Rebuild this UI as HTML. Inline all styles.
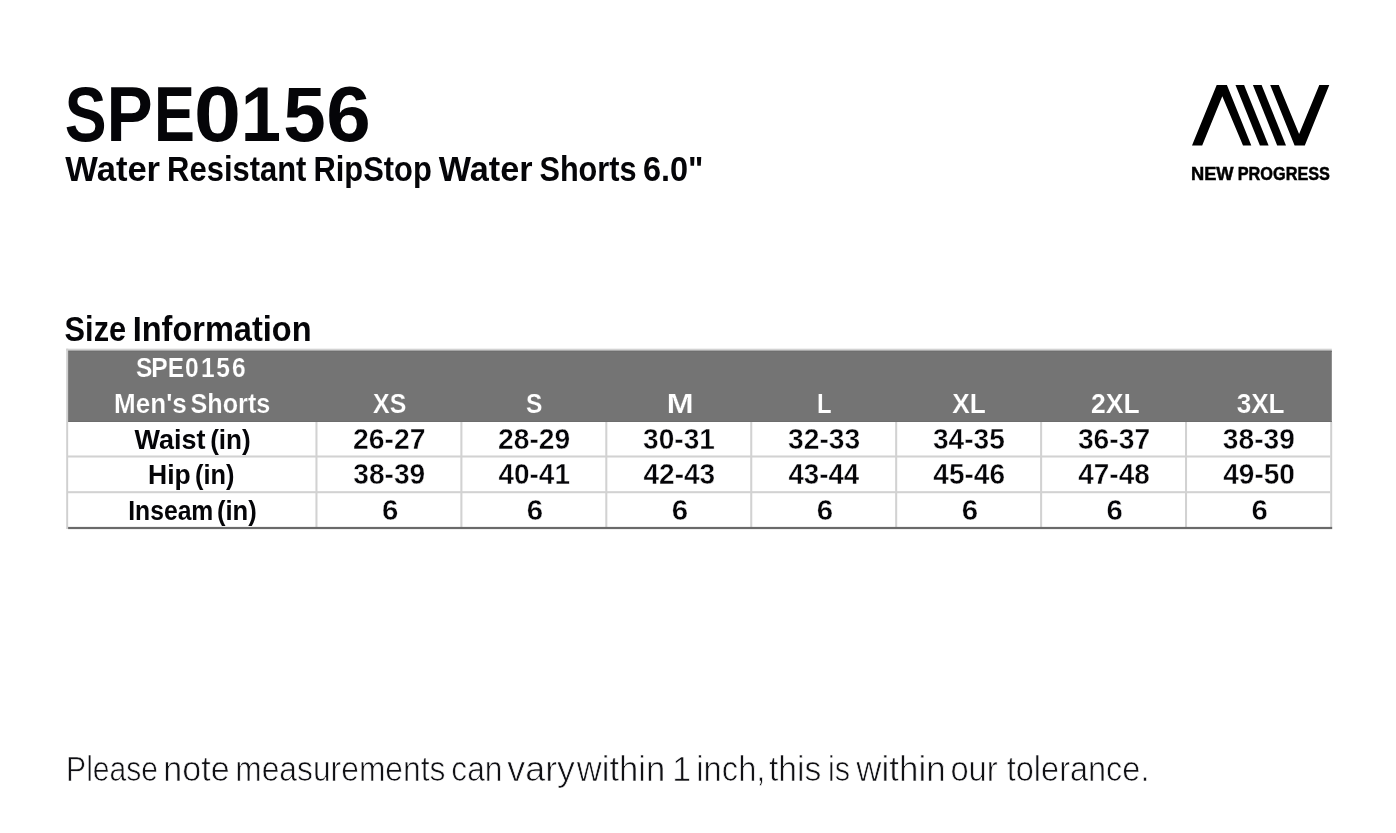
<!DOCTYPE html>
<html lang="en"><head><meta charset="utf-8"><title>SPE0156 Size Information</title>
<style>
html,body{margin:0;padding:0;background:#fff;}
#page{position:relative;width:1396px;height:833px;overflow:hidden;background:#fff;font-family:"Liberation Sans",sans-serif;}
svg{display:block;}
</style></head><body><div id="page">
<svg width="1396" height="833" viewBox="0 0 1396 833" font-family="'Liberation Sans', sans-serif">
<rect x="66.2" y="348.7" width="1265.60" height="2.1" fill="#d2d2d2"/>
<rect x="68" y="350.5" width="1263.80" height="71.50" fill="#747474"/>
<rect x="68" y="351.0" width="1263.80" height="1.0" fill="#6f6f6f"/>
<rect x="68" y="421.0" width="1263.80" height="1.0" fill="#6d6d6d"/>
<rect x="66.2" y="348.7" width="1.95" height="180.30" fill="#d0d0d0"/>
<rect x="1330.2" y="422.0" width="2.0" height="105.00" fill="#d0d0d0"/>
<rect x="315.42" y="422.0" width="2.06" height="105.00" fill="#d2d2d2"/>
<rect x="460.35" y="422.0" width="2.06" height="105.00" fill="#d2d2d2"/>
<rect x="605.28" y="422.0" width="2.06" height="105.00" fill="#d2d2d2"/>
<rect x="750.21" y="422.0" width="2.06" height="105.00" fill="#d2d2d2"/>
<rect x="895.14" y="422.0" width="2.06" height="105.00" fill="#d2d2d2"/>
<rect x="1040.07" y="422.0" width="2.06" height="105.00" fill="#d2d2d2"/>
<rect x="1185.00" y="422.0" width="2.06" height="105.00" fill="#d2d2d2"/>
<rect x="68" y="455.47" width="1262.20" height="2.06" fill="#d2d2d2"/>
<rect x="68" y="491.17" width="1262.20" height="2.06" fill="#d2d2d2"/>
<rect x="68.1" y="526.9" width="1264.10" height="2.2" fill="#6a6a6a"/>
<g fill="#000">
<polygon points="1192.0,145.5 1216.7,85 1226.9,85 1251.3,145.5 1243.0,145.5 1222.3,96.3 1202.2,145.5"/>
<polygon points="1235.5,85 1244.1,85 1268.6,145.5 1259.9,145.5"/>
<polygon points="1252.9,85 1261.6,85 1286.0,145.5 1277.2,145.5"/>
<polygon points="1270.2,85 1278.8,85 1299.1,134.1 1319.3,85 1329.3,85 1304.8,145.5 1294.6,145.5"/>
</g>
<text y="141.15" font-size="78.49" font-weight="700" fill="#050508"><tspan x="64.69" textLength="41.84" lengthAdjust="spacingAndGlyphs">S</tspan><tspan x="106.60" textLength="46.22" lengthAdjust="spacingAndGlyphs">P</tspan><tspan x="153.98" textLength="40.92" lengthAdjust="spacingAndGlyphs">E</tspan><tspan x="194.12" textLength="46.98" lengthAdjust="spacingAndGlyphs">0</tspan><tspan x="240.64" textLength="40.28" lengthAdjust="spacingAndGlyphs">1</tspan><tspan x="283.25" textLength="42.51" lengthAdjust="spacingAndGlyphs">5</tspan><tspan x="326.36" textLength="44.50" lengthAdjust="spacingAndGlyphs">6</tspan></text>
<text y="181.30" font-size="35.17" font-weight="700" fill="#050508"><tspan x="65.32" textLength="94.76" lengthAdjust="spacingAndGlyphs">Water</tspan> <tspan x="167.11" textLength="139.33" lengthAdjust="spacingAndGlyphs">Resistant</tspan> <tspan x="313.42" textLength="118.41" lengthAdjust="spacingAndGlyphs">RipStop</tspan> <tspan x="438.72" textLength="93.75" lengthAdjust="spacingAndGlyphs">Water</tspan> <tspan x="539.43" textLength="97.15" lengthAdjust="spacingAndGlyphs">Shorts</tspan> <tspan x="642.99" textLength="60.50" lengthAdjust="spacingAndGlyphs">6.0&quot;</tspan></text>
<text y="180.25" font-size="18.68" font-weight="700" fill="#000" stroke="#000" stroke-width="0.5"><tspan x="1190.91" textLength="42.73" lengthAdjust="spacingAndGlyphs">NEW</tspan> <tspan x="1237.75" textLength="92.21" lengthAdjust="spacingAndGlyphs">PROGRESS</tspan></text>
<text y="341.20" font-size="35.32" font-weight="700" fill="#050508"><tspan x="64.62" textLength="61.50" lengthAdjust="spacingAndGlyphs">Size</tspan> <tspan x="132.71" textLength="178.80" lengthAdjust="spacingAndGlyphs">Information</tspan></text>
<text y="781.25" font-size="35.32" font-weight="400" fill="#101014" stroke="#fff" stroke-width="0.7"><tspan x="66.09" textLength="92.01" lengthAdjust="spacingAndGlyphs">Please</tspan> <tspan x="163.34" textLength="66.28" lengthAdjust="spacingAndGlyphs">note</tspan> <tspan x="235.20" textLength="210.27" lengthAdjust="spacingAndGlyphs">measurements</tspan> <tspan x="451.36" textLength="51.10" lengthAdjust="spacingAndGlyphs">can</tspan> <tspan x="507.32" textLength="67.65" lengthAdjust="spacingAndGlyphs">vary</tspan> <tspan x="576.75" textLength="88.56" lengthAdjust="spacingAndGlyphs">within</tspan> <tspan x="672.27" textLength="18.85" lengthAdjust="spacingAndGlyphs">1</tspan> <tspan x="696.35" textLength="69.07" lengthAdjust="spacingAndGlyphs">inch,</tspan> <tspan x="768.94" textLength="52.33" lengthAdjust="spacingAndGlyphs">this</tspan> <tspan x="828.00" textLength="22.10" lengthAdjust="spacingAndGlyphs">is</tspan> <tspan x="856.35" textLength="89.28" lengthAdjust="spacingAndGlyphs">within</tspan> <tspan x="950.43" textLength="47.30" lengthAdjust="spacingAndGlyphs">our</tspan> <tspan x="1006.76" textLength="142.71" lengthAdjust="spacingAndGlyphs">tolerance.</tspan></text>
<text transform="scale(0.88,1)" x="154.60 171.81 190.57 210.34 228.52 245.62 263.51" y="377.10" font-size="27.91" font-weight="700" fill="#fff" stroke="#747474" stroke-width="0.2">SPE0156</text>
<text y="412.80" font-size="27.91" font-weight="700" fill="#fff" stroke="#747474" stroke-width="0.2"><tspan x="114.06" textLength="72.82" lengthAdjust="spacingAndGlyphs">Men&#x27;s</tspan> <tspan x="190.57" textLength="79.71" lengthAdjust="spacingAndGlyphs">Shorts</tspan></text>
<text y="449.00" font-size="27.62" font-weight="700" fill="#050508"><tspan x="134.62" textLength="70.92" lengthAdjust="spacingAndGlyphs">Waist</tspan> <tspan x="210.15" textLength="40.59" lengthAdjust="spacingAndGlyphs">(in)</tspan></text>
<text y="484.00" font-size="27.62" font-weight="700" fill="#050508"><tspan x="148.03" textLength="42.71" lengthAdjust="spacingAndGlyphs">Hip</tspan> <tspan x="195.09" textLength="39.41" lengthAdjust="spacingAndGlyphs">(in)</tspan></text>
<text y="520.00" font-size="27.62" font-weight="700" fill="#050508"><tspan x="128.25" textLength="85.07" lengthAdjust="spacingAndGlyphs">Inseam</tspan> <tspan x="216.88" textLength="39.84" lengthAdjust="spacingAndGlyphs">(in)</tspan></text>
<text y="412.80" font-size="27.91" font-weight="700" fill="#fff" stroke="#747474" stroke-width="0.2"><tspan x="373.12" textLength="33.21" lengthAdjust="spacingAndGlyphs">XS</tspan></text>
<text y="412.80" font-size="27.91" font-weight="700" fill="#fff" stroke="#747474" stroke-width="0.2"><tspan x="525.99" textLength="16.43" lengthAdjust="spacingAndGlyphs">S</tspan></text>
<text y="412.80" font-size="27.91" font-weight="700" fill="#fff" stroke="#747474" stroke-width="0.2"><tspan x="666.65" textLength="26.87" lengthAdjust="spacingAndGlyphs">M</tspan></text>
<text y="412.80" font-size="27.91" font-weight="700" fill="#fff" stroke="#747474" stroke-width="0.2"><tspan x="817.10" textLength="14.63" lengthAdjust="spacingAndGlyphs">L</tspan></text>
<text y="412.80" font-size="27.91" font-weight="700" fill="#fff" stroke="#747474" stroke-width="0.2"><tspan x="952.24" textLength="33.50" lengthAdjust="spacingAndGlyphs">XL</tspan></text>
<text y="412.80" font-size="27.91" font-weight="700" fill="#fff" stroke="#747474" stroke-width="0.2"><tspan x="1090.95" textLength="48.67" lengthAdjust="spacingAndGlyphs">2XL</tspan></text>
<text y="412.80" font-size="27.91" font-weight="700" fill="#fff" stroke="#747474" stroke-width="0.2"><tspan x="1236.64" textLength="47.97" lengthAdjust="spacingAndGlyphs">3XL</tspan></text>
<text y="449.20" font-size="28.63" font-weight="700" fill="#050508" stroke="#fff" stroke-width="0.4"><tspan x="353.08" textLength="72.40" lengthAdjust="spacingAndGlyphs">26-27</tspan></text>
<text y="449.20" font-size="28.63" font-weight="700" fill="#050508" stroke="#fff" stroke-width="0.4"><tspan x="498.01" textLength="72.21" lengthAdjust="spacingAndGlyphs">28-29</tspan></text>
<text y="449.20" font-size="28.63" font-weight="700" fill="#050508" stroke="#fff" stroke-width="0.4"><tspan x="643.12" textLength="71.73" lengthAdjust="spacingAndGlyphs">30-31</tspan></text>
<text y="449.20" font-size="28.63" font-weight="700" fill="#050508" stroke="#fff" stroke-width="0.4"><tspan x="788.05" textLength="72.06" lengthAdjust="spacingAndGlyphs">32-33</tspan></text>
<text y="449.20" font-size="28.63" font-weight="700" fill="#050508" stroke="#fff" stroke-width="0.4"><tspan x="932.98" textLength="71.79" lengthAdjust="spacingAndGlyphs">34-35</tspan></text>
<text y="449.20" font-size="28.63" font-weight="700" fill="#050508" stroke="#fff" stroke-width="0.4"><tspan x="1077.91" textLength="72.22" lengthAdjust="spacingAndGlyphs">36-37</tspan></text>
<text y="449.20" font-size="28.63" font-weight="700" fill="#050508" stroke="#fff" stroke-width="0.4"><tspan x="1222.84" textLength="72.02" lengthAdjust="spacingAndGlyphs">38-39</tspan></text>
<text y="484.20" font-size="28.63" font-weight="700" fill="#050508" stroke="#fff" stroke-width="0.4"><tspan x="353.26" textLength="72.02" lengthAdjust="spacingAndGlyphs">38-39</tspan></text>
<text y="484.20" font-size="28.63" font-weight="700" fill="#050508" stroke="#fff" stroke-width="0.4"><tspan x="498.56" textLength="71.36" lengthAdjust="spacingAndGlyphs">40-41</tspan></text>
<text y="484.20" font-size="28.63" font-weight="700" fill="#050508" stroke="#fff" stroke-width="0.4"><tspan x="643.49" textLength="71.68" lengthAdjust="spacingAndGlyphs">42-43</tspan></text>
<text y="484.20" font-size="28.63" font-weight="700" fill="#050508" stroke="#fff" stroke-width="0.4"><tspan x="788.42" textLength="70.74" lengthAdjust="spacingAndGlyphs">43-44</tspan></text>
<text y="484.20" font-size="28.63" font-weight="700" fill="#050508" stroke="#fff" stroke-width="0.4"><tspan x="933.35" textLength="71.65" lengthAdjust="spacingAndGlyphs">45-46</tspan></text>
<text y="484.20" font-size="28.63" font-weight="700" fill="#050508" stroke="#fff" stroke-width="0.4"><tspan x="1078.28" textLength="71.49" lengthAdjust="spacingAndGlyphs">47-48</tspan></text>
<text y="484.20" font-size="28.63" font-weight="700" fill="#050508" stroke="#fff" stroke-width="0.4"><tspan x="1223.21" textLength="71.78" lengthAdjust="spacingAndGlyphs">49-50</tspan></text>
<text y="520.20" font-size="28.63" font-weight="700" fill="#050508" stroke="#fff" stroke-width="0.4"><tspan x="381.95" textLength="16.36" lengthAdjust="spacingAndGlyphs">6</tspan></text>
<text y="520.20" font-size="28.63" font-weight="700" fill="#050508" stroke="#fff" stroke-width="0.4"><tspan x="526.88" textLength="16.36" lengthAdjust="spacingAndGlyphs">6</tspan></text>
<text y="520.20" font-size="28.63" font-weight="700" fill="#050508" stroke="#fff" stroke-width="0.4"><tspan x="671.81" textLength="16.36" lengthAdjust="spacingAndGlyphs">6</tspan></text>
<text y="520.20" font-size="28.63" font-weight="700" fill="#050508" stroke="#fff" stroke-width="0.4"><tspan x="816.74" textLength="16.36" lengthAdjust="spacingAndGlyphs">6</tspan></text>
<text y="520.20" font-size="28.63" font-weight="700" fill="#050508" stroke="#fff" stroke-width="0.4"><tspan x="961.67" textLength="16.36" lengthAdjust="spacingAndGlyphs">6</tspan></text>
<text y="520.20" font-size="28.63" font-weight="700" fill="#050508" stroke="#fff" stroke-width="0.4"><tspan x="1106.60" textLength="16.36" lengthAdjust="spacingAndGlyphs">6</tspan></text>
<text y="520.20" font-size="28.63" font-weight="700" fill="#050508" stroke="#fff" stroke-width="0.4"><tspan x="1251.53" textLength="16.36" lengthAdjust="spacingAndGlyphs">6</tspan></text>
</svg>
</div></body></html>
